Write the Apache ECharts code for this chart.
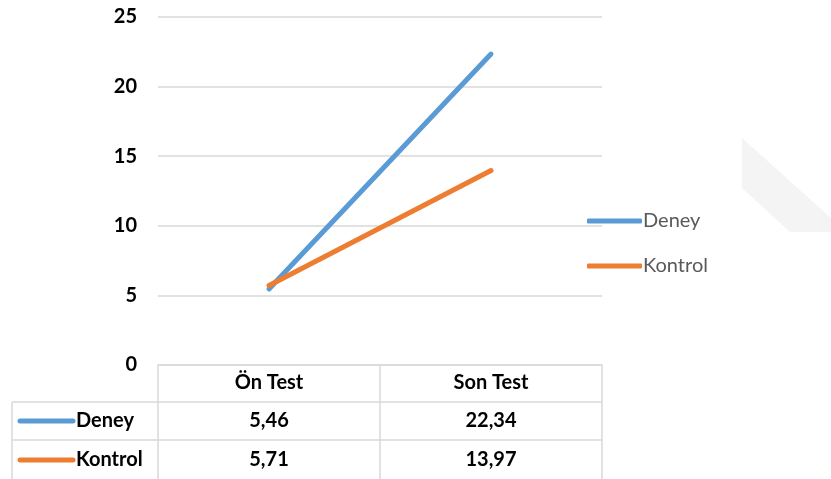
<!DOCTYPE html>
<html><head><meta charset="utf-8">
<script src="https://cdn.jsdelivr.net/npm/echarts@6/dist/echarts.min.js"></script>
<style>html,body{margin:0;padding:0;background:#fff}#c{width:831px;height:479px}</style>
</head><body><div id="c"></div>
<script>
const categories = ['Ön Test', 'Son Test'];
const deney = [5.46, 22.34];
const kontrol = [5.71, 13.97];
const seriesNames = ['Deney', 'Kontrol'];
const colors = ['#5B9BD5', '#ED7D31'];
const yTicks = {min: 0, max: 25, interval: 5};

const FONT = 'Lato, "Open Sans", sans-serif';
const FS = 20;
const chart = echarts.init(document.getElementById('c'));
const fmt = v => v.toFixed(2).replace('.', ',');

const option = {
  animation: false,
  grid: {left: 158, right: 229, top: 17, bottom: 114},
  legend: {
    orient: 'vertical', left: 582, top: 206, itemGap: 25,
    itemWidth: 55, itemHeight: 5, icon: 'roundRect',
    textStyle: {fontFamily: FONT, fontSize: FS, color: '#595959', padding: [0,0,0,-4]},
    data: seriesNames
  },
  xAxis: {
    type: 'category', data: categories, boundaryGap: true,
    axisLine: {lineStyle: {color: '#d9d9d9', width: 1.5}},
    axisTick: {show: true, length: 114, lineStyle: {color: '#d9d9d9', width: 1.5}},
    axisLabel: {fontFamily: FONT, fontSize: FS, fontWeight: 'bold', color: '#000', margin: 8}
  },
  yAxis: {
    type: 'value', min: yTicks.min, max: yTicks.max, interval: yTicks.interval,
    axisLine: {show: false}, axisTick: {show: false},
    splitLine: {lineStyle: {color: '#d9d9d9', width: 1.5}},
    axisLabel: {fontFamily: FONT, fontSize: FS, fontWeight: 'bold', color: '#000', margin: 21}
  },
  series: [
    {name: seriesNames[0], type: 'line', data: deney, symbol: 'none',
     lineStyle: {color: colors[0], width: 5, cap: 'round'}, itemStyle: {color: colors[0]}},
    {name: seriesNames[1], type: 'line', data: kontrol, symbol: 'none',
     lineStyle: {color: colors[1], width: 5, cap: 'round'}, itemStyle: {color: colors[1]}}
  ]
};
chart.setOption(option);

// data table drawn below the axis
const rowsY = [421, 460];
const lineYs = [402, 440];
const graphics = [];
graphics.push({type: 'polygon', silent: true, z: -10,
  shape: {points: [[742,138],[831,218],[831,232],[790,232],[742,188]]},
  style: {fill: '#f4f4f4'}});
lineYs.forEach(y => graphics.push({type: 'line', shape: {x1: 12, y1: y, x2: 602, y2: y}, style: {stroke: '#d9d9d9', lineWidth: 1.5}}));
graphics.push({type: 'line', shape: {x1: 12, y1: 402, x2: 12, y2: 479}, style: {stroke: '#d9d9d9', lineWidth: 1.5}});
const allSeries = [deney, kontrol];
allSeries.forEach((vals, r) => {
  graphics.push({type: 'line', shape: {x1: 20, y1: rowsY[r], x2: 73, y2: rowsY[r]}, style: {stroke: colors[r], lineWidth: 5, lineCap: 'round'}});
  graphics.push({type: 'text', x: 76, y: rowsY[r], style: {text: seriesNames[r], font: 'bold ' + FS + 'px ' + FONT, fill: '#000', textVerticalAlign: 'middle', textAlign: 'left'}});
  vals.forEach((v, c) => {
    const px = chart.convertToPixel({xAxisIndex: 0}, categories[c]);
    graphics.push({type: 'text', x: px, y: rowsY[r], style: {text: fmt(v), font: 'bold ' + FS + 'px ' + FONT, fill: '#000', textAlign: 'center', textVerticalAlign: 'middle'}});
  });
});
chart.setOption({graphic: graphics});
</script></body></html>
